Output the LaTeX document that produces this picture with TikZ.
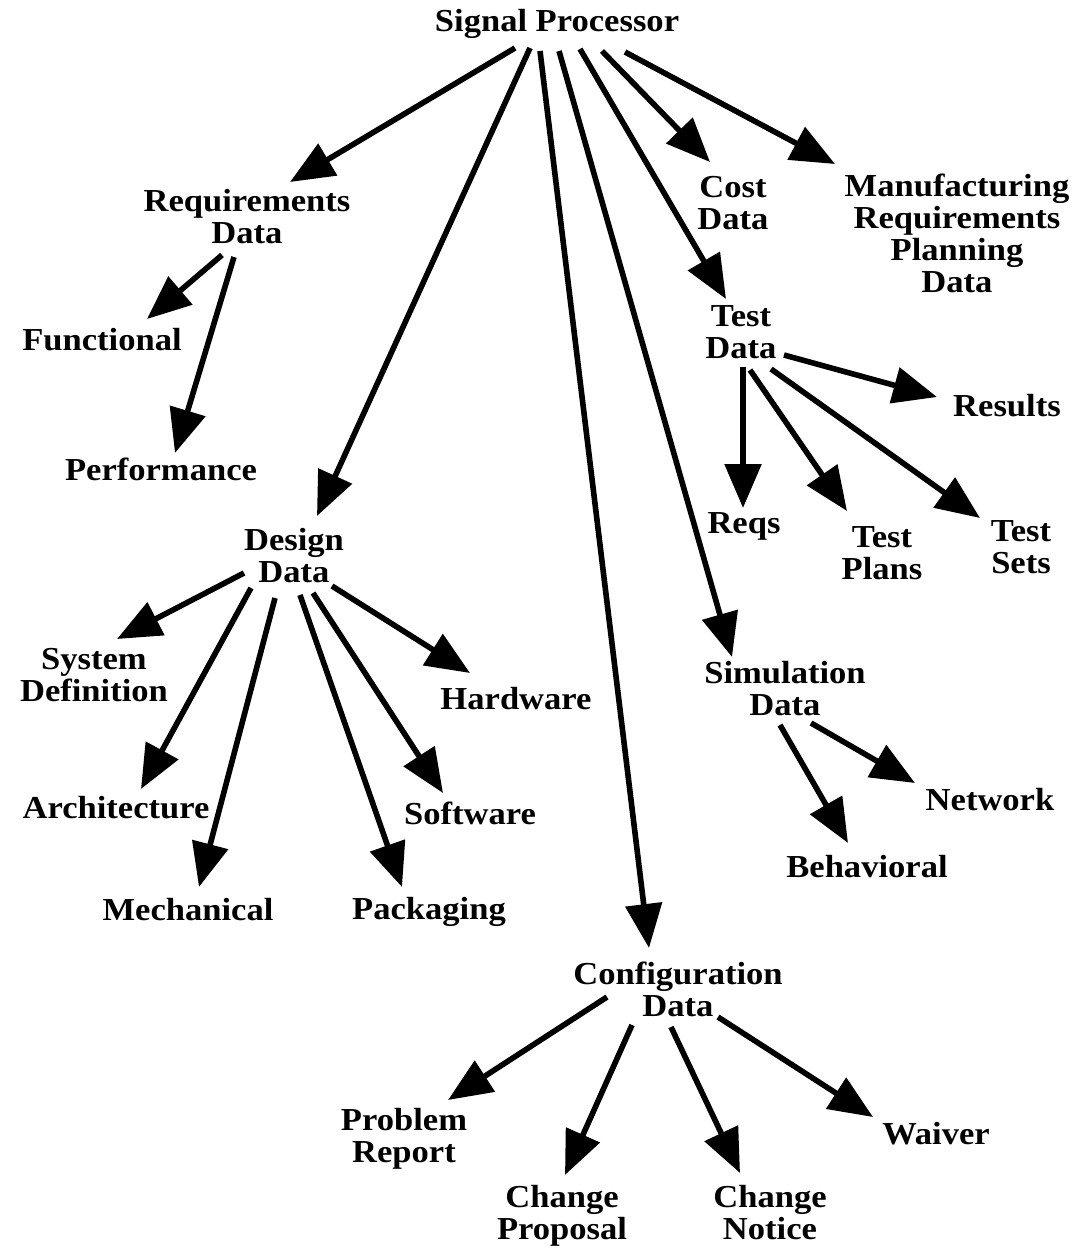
\documentclass[tikz,border=0pt]{standalone}
\usepackage{fontspec}
\setmainfont{Liberation Serif}[FakeStretch=1.08]
\usetikzlibrary{arrows.meta,calc}

\begin{document}
\begin{tikzpicture}[x=0.75pt,y=-0.75pt,
	box/.style={align=center,inner sep=0pt,font=\fontsize{24}{24}\selectfont\bfseries},
	arr/.style={line width=4.2pt,-{Triangle[length=33pt,width=27pt]}}]
	\useasboundingbox (0,0) rectangle (1073,1249);

	% top
	\node[box] (sp) at (557,24) {Signal Processor};

	% first level
	\node[box] (req) at (247,217) {Requirements\\Data};
	\node[box] (des) at (294,556) {Design\\Data};
	\node[box] (conf) at (678,989) {Configuration\\Data};
	\node[box] (sim) at (785,689) {Simulation\\Data};
	\node[box] (test) at (741,332) {Test\\Data};
	\node[box] (cost) at (733,203) {Cost\\Data};
	\node[box] (manu) at (957,233) {Manufacturing\\Requirements\\Planning\\Data};

	% leaves
	\node[box] (fun) at (102,340) {Functional};
	\node[box] (perf) at (161,469) {Performance};
	\node[box] (sysd) at (94,675) {System\\Definition};
	\node[box] (arch) at (116,808) {Architecture};
	\node[box] (mech) at (188,910) {Mechanical};
	\node[box] (pack) at (429,912) {Packaging};
	\node[box] (soft) at (470,813) {Software};
	\node[box] (hard) at (516,699) {Hardware};
	\node[box] (res) at (1007,406) {Results};
	\node[box] (reqs) at (744,526) {Reqs};
	\node[box] (tplan) at (882,553) {Test\\Plans};
	\node[box] (tset) at (1021,547) {Test\\Sets};
	\node[box] (net) at (990,800) {Network};
	\node[box] (beh) at (867,867) {Behavioral};
	\node[box] (prob) at (404,1139) {Problem\\Report};
	\node[box] (chp) at (562,1216) {Change\\Proposal};
	\node[box] (chn) at (770,1213) {Change\\Notice};
	\node[box] (waiv) at (936,1134) {Waiver};

	% arrows from the top
	\draw[arr] ($(sp)+(-42,24)$) -- ($(req)+(43,-35)$);
	\draw[arr] ($(sp)+(-27,24)$) -- ($(des)+(23,-40)$);
	\draw[arr] ($(sp)+(-17,27)$) -- ($(conf)+(-29,-41)$);
	\draw[arr] ($(sp)+(2,27)$) -- ($(sim)+(-53,-32)$);
	\draw[arr] ($(sp)+(23,25)$) -- ($(test)+(-15,-33)$);
	\draw[arr] ($(sp)+(45,27)$) -- ($(cost)+(-23,-41)$);
	\draw[arr] ($(sp)+(68,28)$) -- ($(manu)+(-122,-69)$);

	% requirements
	\draw[arr] ($(req)+(-25,38)$) -- ($(fun)+(45,-21)$);
	\draw[arr] ($(req)+(-13,40)$) -- ($(perf)+(14,-16)$);

	% design
	\draw[arr] ($(des)+(-50,17)$) -- ($(sysd)+(23,-36)$);
	\draw[arr] ($(des)+(-43,32)$) -- ($(arch)+(25,-19)$);
	\draw[arr] ($(des)+(-19,42)$) -- ($(mech)+(11,-23)$);
	\draw[arr] ($(des)+(6,39)$) -- ($(pack)+(-27,-25)$);
	\draw[arr] ($(des)+(19,37)$) -- ($(soft)+(-27,-20)$);
	\draw[arr] ($(des)+(38,30)$) -- ($(hard)+(-46,-26)$);

	% test
	\draw[arr] ($(test)+(43,23)$) -- ($(res)+(-70,-9)$);
	\draw[arr] ($(test)+(2,35)$) -- ($(reqs)+(-1,-18)$);
	\draw[arr] ($(test)+(9,38)$) -- ($(tplan)+(-35,-42)$);
	\draw[arr] ($(test)+(30,37)$) -- ($(tset)+(-41,-29)$);

	% simulation
	\draw[arr] ($(sim)+(26,34)$) -- ($(net)+(-75,-17)$);
	\draw[arr] ($(sim)+(-5,36)$) -- ($(beh)+(-19,-24)$);

	% configuration
	\draw[arr] ($(conf)+(-71,8)$) -- ($(prob)+(44,-39)$);
	\draw[arr] ($(conf)+(-46,36)$) -- ($(chp)+(3,-41)$);
	\draw[arr] ($(conf)+(-7,38)$) -- ($(chn)+(-30,-40)$);
	\draw[arr] ($(conf)+(40,28)$) -- ($(waiv)+(-63,-17)$);
\end{tikzpicture}
\end{document}
